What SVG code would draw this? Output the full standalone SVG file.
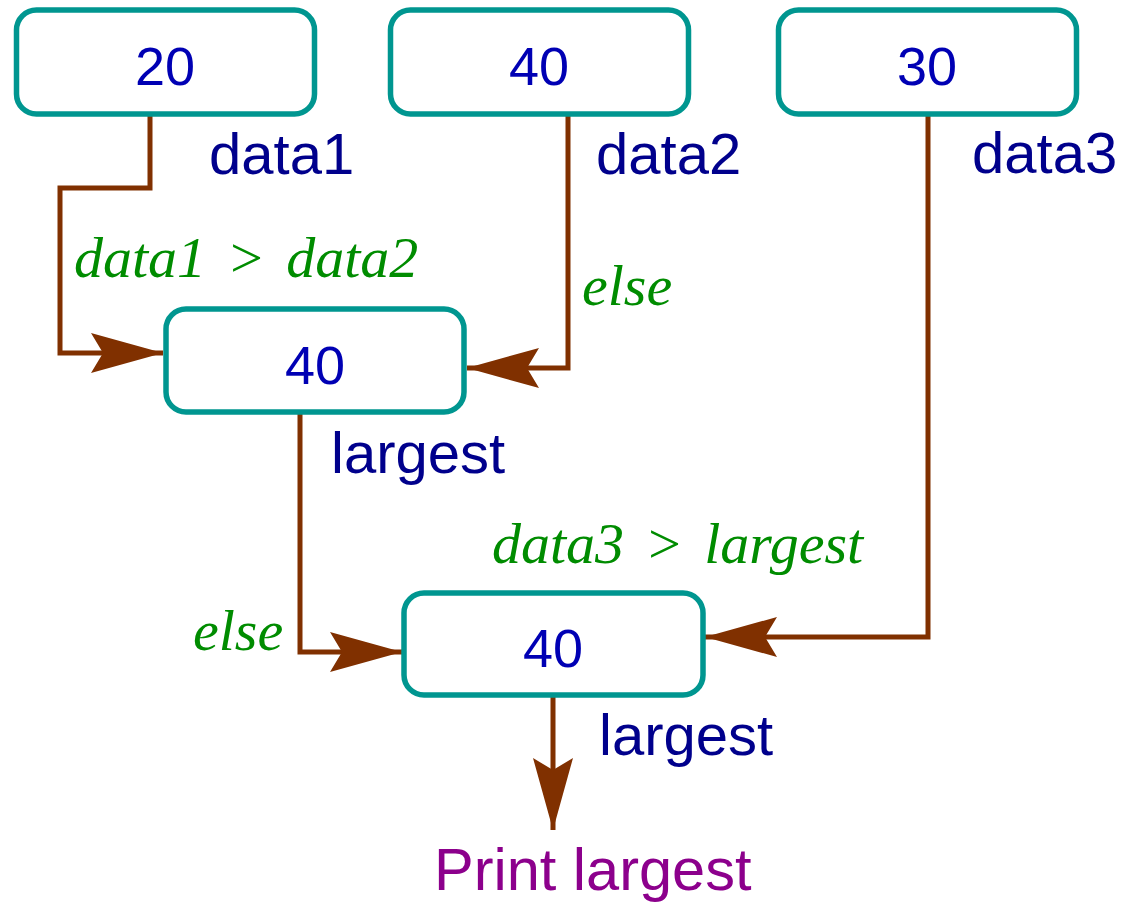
<svg xmlns="http://www.w3.org/2000/svg" width="1128" height="903" viewBox="0 0 1128 903">
  <style>
    .box { fill: #ffffff; stroke: #009690; stroke-width: 5.5; }
    .val { font-family: "Liberation Sans", Arial, sans-serif; font-size: 54px; fill: #0000b4; text-anchor: middle; }
    .lbl { font-family: "Liberation Sans", Arial, sans-serif; font-size: 58px; fill: #00008c; }
    .cond { font-family: "Liberation Serif", "Times New Roman", serif; font-style: italic; font-size: 58px; word-spacing: 6px; fill: #008c00; }
    .out { font-family: "Liberation Sans", Arial, sans-serif; font-size: 59.5px; fill: #8c008c; }
    .wire { fill: none; stroke: #803000; stroke-width: 5; }
  </style>
  <defs>
    <marker id="head" viewBox="0 0 72 40" refX="72" refY="20" markerWidth="72" markerHeight="40" markerUnits="userSpaceOnUse" orient="auto">
      <path d="M72,20 L0,0 L12,20 L0,40 Z" fill="#803000"/>
    </marker>
  </defs>

  <g id="connectors">
    <path class="wire" d="M150,114 V188 H60 V353 H163" marker-end="url(#head)"/>
    <path class="wire" d="M568,114 V368 H467" marker-end="url(#head)"/>
    <path class="wire" d="M300,412 V652 H402" marker-end="url(#head)"/>
    <path class="wire" d="M928,114 V637 H705" marker-end="url(#head)"/>
    <path class="wire" d="M553,695 V830" marker-end="url(#head)"/>
  </g>

  <g id="data1">
    <rect class="box" x="16.5" y="10" width="298" height="104" rx="20"/>
    <text class="val" x="165" y="85">20</text>
    <text class="lbl" x="209" y="174">data1</text>
  </g>
  <g id="data2">
    <rect class="box" x="390.5" y="10" width="298" height="104" rx="20"/>
    <text class="val" x="539" y="85">40</text>
    <text class="lbl" x="596" y="174">data2</text>
  </g>
  <g id="data3">
    <rect class="box" x="778.5" y="10" width="298" height="104" rx="20"/>
    <text class="val" x="927" y="85">30</text>
    <text class="lbl" x="972" y="173">data3</text>
  </g>
  <g id="largest1">
    <rect class="box" x="166" y="309" width="298" height="103" rx="20"/>
    <text class="val" x="315" y="384">40</text>
    <text class="lbl" x="331" y="473">largest</text>
  </g>
  <g id="largest2">
    <rect class="box" x="404" y="593" width="299" height="102" rx="20"/>
    <text class="val" x="553" y="667">40</text>
    <text class="lbl" x="599" y="755">largest</text>
  </g>

  <g id="conditions">
    <text class="cond" x="74" y="277">data1 &gt; data2</text>
    <text class="cond" x="582" y="305">else</text>
    <text class="cond" x="492" y="563">data3 &gt; largest</text>
    <text class="cond" x="193" y="650">else</text>
  </g>

  <g id="print">
    <text class="out" x="434" y="890">Print largest</text>
  </g>
</svg>
